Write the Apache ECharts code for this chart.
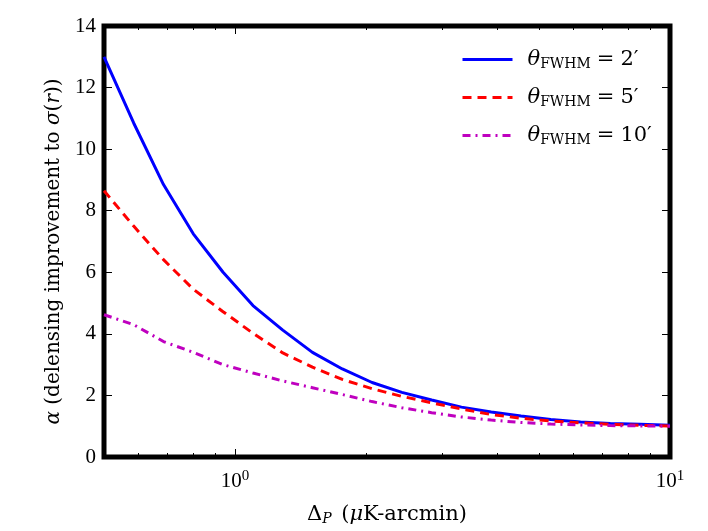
<!DOCTYPE html>
<html>
<head>
<meta charset="utf-8">
<script src="https://cdn.jsdelivr.net/npm/echarts@6/dist/echarts.min.js"></script>
<style>
  html, body { margin: 0; padding: 0; background: #fff; }
  #chart { width: 708px; height: 531px; }
</style>
</head>
<body>
<div id="chart"></div>
<script>
// delta_P values (uK-arcmin), log spaced
const deltaP = [0.5, 0.585, 0.685, 0.802, 0.939, 1.1, 1.288, 1.507, 1.765, 2.066, 2.419, 2.832, 3.316, 3.882, 4.545, 5.321, 6.229, 7.293, 8.538, 10]
const alpha2 = [13.0, 10.85, 8.85, 7.25, 6.0, 4.92, 4.12, 3.40, 2.86, 2.42, 2.10, 1.85, 1.62, 1.46, 1.33, 1.22, 1.14, 1.09, 1.06, 1.03]
const alpha5 = [8.65, 7.5, 6.41, 5.45, 4.72, 4.02, 3.38, 2.92, 2.52, 2.22, 1.97, 1.76, 1.56, 1.38, 1.26, 1.17, 1.11, 1.06, 1.03, 1.01]
const alpha10 = [4.62, 4.3, 3.75, 3.4, 3.0, 2.73, 2.47, 2.25, 2.03, 1.8, 1.6, 1.44, 1.30, 1.20, 1.12, 1.07, 1.04, 1.02, 1.01, 1.0]
const majorTicks = [1, 10]
const minorTicks = [0.6, 0.7, 0.8, 0.9, 2, 3, 4, 5, 6, 7, 8, 9]

const FONT = "Liberation Serif"
const WIDE = "DejaVu Serif"
const lg = v => Math.log10(v)
const xMin = lg(0.5), xMax = 1

function xAxisDef(pos, ticks, len, labels) {
    return {
        type: "value", position: pos, min: xMin, max: xMax,
        axisLine: { show: false, onZero: false }, splitLine: { show: false },
        axisTick: { show: true, inside: true, length: len, customValues: ticks.map(lg), lineStyle: { color: "#000", width: 1 } },
        axisLabel: labels ? {
            show: true, customValues: ticks.map(lg), margin: 12,
            formatter: v => "{b|10}{s|" + Math.round(v) + "}",
            rich: { b: { fontFamily: FONT, fontSize: 21, color: "#000" }, s: { fontFamily: FONT, fontSize: 15, color: "#000", verticalAlign: "top", padding: [0, 0, 10, 0] } }
        } : { show: false }
    }
}

const xAxes = [
    xAxisDef("bottom", majorTicks, 8, true),
    xAxisDef("bottom", minorTicks, 4, false),
    xAxisDef("top", majorTicks, 8, false),
    xAxisDef("top", minorTicks, 4, false)
]
xAxes[0].name = "{d|Δ}{p|P} ({m|μ}K-arcmin)"
xAxes[0].nameLocation = "middle"
xAxes[0].nameGap = 47
xAxes[0].nameTextStyle = {
    rich: {
        d: { fontFamily: WIDE, fontSize: 21, color: "#000" },
        p: { fontFamily: WIDE, fontSize: 14, fontStyle: "italic", color: "#000", verticalAlign: "bottom", padding: [8, 3, 0, 0] },
        m: { fontFamily: WIDE, fontSize: 21, fontStyle: "italic", color: "#000" }
    },
    fontFamily: WIDE, fontSize: 21, color: "#000"
}

function yAxisDef(pos, labels) {
    return {
        type: "value", position: pos, min: 0, max: 14, interval: 2,
        axisLine: { show: false, onZero: false }, splitLine: { show: false },
        axisTick: { show: true, inside: true, length: 8, lineStyle: { color: "#000", width: 1 } },
        axisLabel: { show: labels, fontFamily: FONT, fontSize: 21, color: "#000", margin: 8 }
    }
}
const yAxes = [yAxisDef("left", true), yAxisDef("right", false)]
yAxes[0].name = "{a|α} (delensing improvement to {a|σ}({a|r}))"
yAxes[0].nameLocation = "middle"
yAxes[0].nameGap = 37
yAxes[0].nameTextStyle = {
    fontFamily: WIDE, fontSize: 20, color: "#000", padding: [0, 20, 0, 0],
    rich: { a: { fontFamily: WIDE, fontSize: 20, fontStyle: "italic", color: "#000" } }
}

const legendRich = {
    t: { fontFamily: WIDE, fontSize: 21, fontStyle: "italic", color: "#000" },
    s: { fontFamily: WIDE, fontSize: 14, color: "#000", verticalAlign: "bottom", padding: [9, 0, 0, 0] },
    n: { fontFamily: WIDE, fontSize: 21, color: "#000" },
    e: { fontFamily: WIDE, fontSize: 21, color: "#000", padding: [0, 6, 0, 6] }
}
const names = ["2", "5", "10"].map(n => "{t|θ}{s|FWHM}{e|=}{n|" + n + "′}")

function line(name, values, color, type) {
    return {
        name, type: "line", xAxisIndex: 0, yAxisIndex: 0, symbol: "none", smooth: false,
        data: deltaP.map((d, i) => [lg(d), values[i]]),
        lineStyle: { color, width: 3, type },
        itemStyle: { color }
    }
}

const opt = {
    animation: false,
    backgroundColor: "#fff",
    grid: { left: 104, right: 38, top: 26, bottom: 68, show: true, borderColor: "#000", borderWidth: 5, backgroundColor: "transparent" },
    legend: {
        orient: "vertical", left: 456, top: 44, itemWidth: 50, itemHeight: 14, itemGap: 16,
        itemStyle: { opacity: 0 },
        lineStyle: { width: 3 },
        textStyle: { rich: legendRich, padding: [0, 0, 0, 10] },
        data: names
    },
    xAxis: xAxes,
    yAxis: yAxes,
    series: [
        line(names[0], alpha2, "#0000ff", "solid"),
        line(names[1], alpha5, "#ff0000", [9, 6]),
        line(names[2], alpha10, "#bf00bf", [8, 5, 2, 5])
    ]
}
echarts.init(document.getElementById("chart")).setOption(opt)
</script>
</body>
</html>
